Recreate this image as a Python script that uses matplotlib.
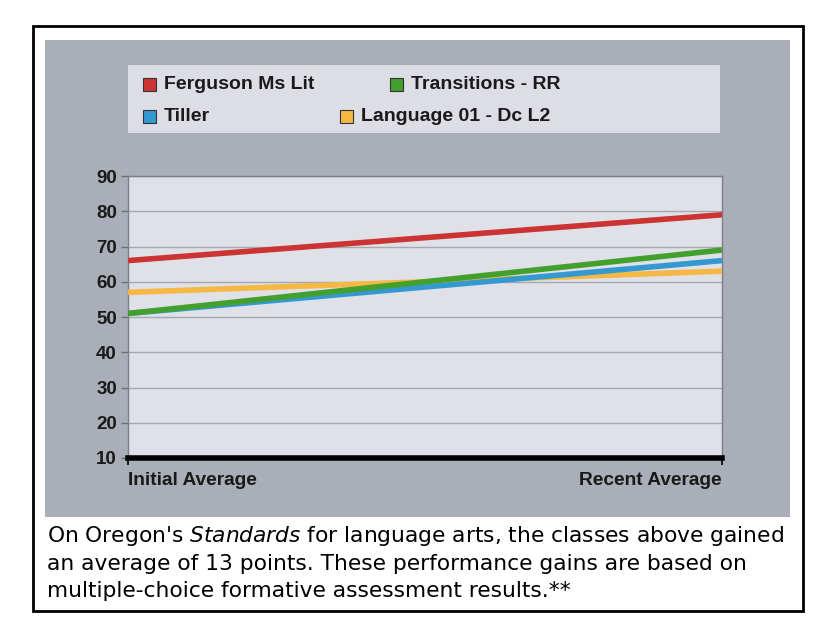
import matplotlib.pyplot as plt
import matplotlib.patches as mpatches

W, H = 831, 625

categories = ['Initial Average', 'Recent Average']
series_names = ['Ferguson Ms Lit', 'Transitions - RR', 'Tiller', 'Language 01 - Dc L2']
ferguson = [66, 79]
transitions = [51, 69]
tiller = [51, 66]
language = [57, 63]
yticks = [10, 20, 30, 40, 50, 60, 70, 80, 90]
caption_lines = [
    r"On Oregon's $\it{Standards}$ for language arts, the classes above gained",
    "an average of 13 points. These performance gains are based on",
    "multiple-choice formative assessment results.**",
]

colors = ['#cc3333', '#44a02c', '#3399d0', '#f5b843']
series = [ferguson, transitions, tiller, language]
# draw order: blue under green like the reference
draw_order = [3, 2, 1, 0]

LABEL_FONT = 'Liberation Sans'


def fx(px):
    return px / W


def fy(py):
    return 1 - py / H


fig = plt.figure(figsize=(W / 100, H / 100), dpi=100)
fig.patch.set_facecolor('white')

# outer black frame
fig.patches.append(mpatches.Rectangle((fx(33), fy(611)), fx(803) - fx(33), fy(26) - fy(611),
                                      transform=fig.transFigure, facecolor='white',
                                      edgecolor='black', linewidth=2, zorder=-3))
# gray chart panel
fig.patches.append(mpatches.Rectangle((fx(45), fy(517)), fx(790) - fx(45), fy(40) - fy(517),
                                      transform=fig.transFigure, facecolor='#a9aeb8',
                                      edgecolor='none', zorder=-2))
# legend box
fig.patches.append(mpatches.Rectangle((fx(128), fy(133)), fx(720) - fx(128), fy(65) - fy(133),
                                      transform=fig.transFigure, facecolor='#dcdde5',
                                      edgecolor='none', zorder=-1))

legend_pos = [(143, 84), (390, 84), (143, 116), (340, 116)]
for name, c, (lx, ly) in zip(series_names, colors, legend_pos):
    fig.patches.append(mpatches.Rectangle((fx(lx), fy(ly + 7)), fx(13), 13 / H,
                                          transform=fig.transFigure, facecolor=c,
                                          edgecolor='#333333', linewidth=0.8, zorder=3))
    fig.text(fx(lx + 21), fy(ly + 5), name, fontsize=14, fontweight='bold', family=LABEL_FONT,
             color='#1a1a1a', va='baseline', ha='left', zorder=3)

ax = fig.add_axes([fx(128), fy(458), fx(722) - fx(128), fy(176) - fy(458)])
ax.set_zorder(5)
ax.set_facecolor('#dfe0e8')
x = [0, 1]
for i in draw_order:
    ax.plot(x, series[i], color=colors[i], linewidth=4, solid_capstyle='butt', zorder=3)

ax.set_xlim(0, 1)
ax.set_ylim(10, 90)
ax.set_yticks(yticks)
ax.set_yticklabels([str(t) for t in yticks], fontsize=13.5, fontweight='bold',
                   family=LABEL_FONT, color='#1a1a1a')
ax.yaxis.grid(True, color='#a6a8b0', linewidth=1)
ax.set_axisbelow(True)
ax.tick_params(axis='y', length=5, width=1, color='#6b6e76', pad=3)
ax.set_xticks(x)
ax.set_xticklabels(categories, fontsize=13.8, fontweight='bold', family=LABEL_FONT,
                   color='#1a1a1a')
ax.get_xticklabels()[0].set_ha('left')
ax.get_xticklabels()[1].set_ha('right')
ax.tick_params(axis='x', length=5, width=1.2, color='black', pad=5)

for side in ['top', 'right', 'left']:
    ax.spines[side].set_color('#7d8088')
    ax.spines[side].set_linewidth(1)
ax.spines['bottom'].set_color('black')
ax.spines['bottom'].set_linewidth(4)

for k, line in enumerate(caption_lines):
    fig.text(fx(47), fy(536 + 27.5 * k), line, fontsize=15.7, family='DejaVu Sans',
             va='center', ha='left', color='black')

fig.savefig('out.png', dpi=100)
